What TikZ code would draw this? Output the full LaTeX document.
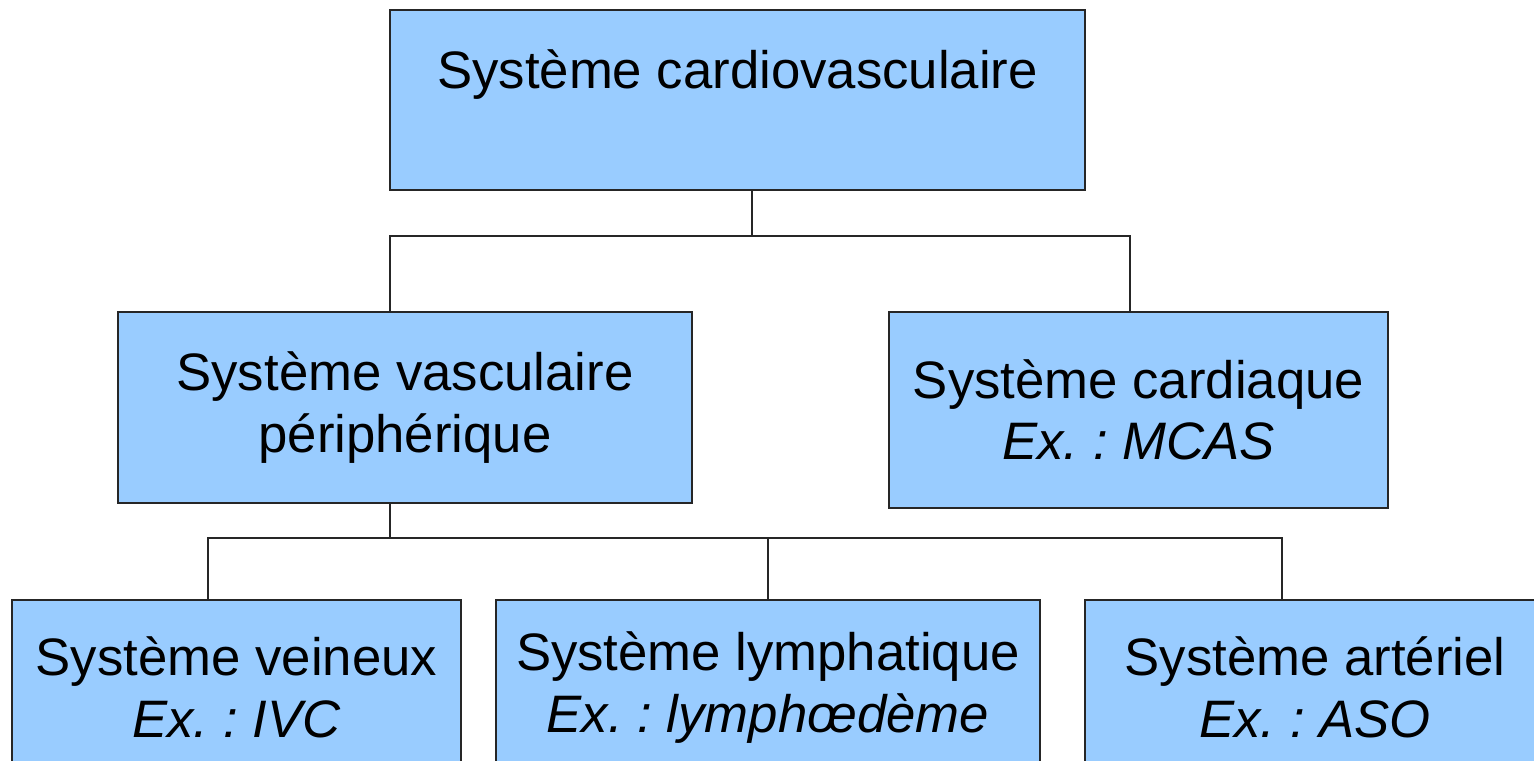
\documentclass[tikz,border=0pt]{standalone}
\usepackage{fontspec}
\setmainfont{Liberation Sans}
\frenchspacing
\definecolor{boxblue}{HTML}{99CCFF}
\begin{document}
\begin{tikzpicture}[
    box/.style={draw=black!85, line width=1.1pt, fill=boxblue, align=center,
                inner sep=0pt, font=\fontsize{30}{35}\selectfont},
    link/.style={black!85, line width=0.9pt}]
        \useasboundingbox (0,0) rectangle (30.68,-15.22);
        \clip (0,0) rectangle (30.68,-15.22);
        \node(cv)   at (14.75, -2.00) [box, minimum width=13.9cm,  minimum height=3.6cm]  {Système cardiovasculaire\\\mbox{}};
        \node(vasc) at ( 8.10, -8.15) [box, minimum width=11.48cm, minimum height=3.82cm] {Système vasculaire\\périphérique};
        \node(card) at (22.77, -8.20) [box, minimum width=9.98cm,  minimum height=3.92cm] {Système cardiaque\\\textit{Ex. : MCAS}};
        \node(vein) at ( 4.73,-13.75) [box, minimum width=8.98cm,  minimum height=3.5cm]  {Système veineux\\\textit{Ex. : IVC}};
        \node(lym)  at (15.36,-13.75) [box, minimum width=10.88cm, minimum height=3.5cm]  {Système lymphatique\\\textit{Ex. : lymphœdème}};
        \node(art)  at (26.30,-13.75) [box, minimum width=9.2cm,   minimum height=3.5cm]  {Système artériel\\\textit{Ex. : ASO}};
        \coordinate(j1)  at (15.04, -4.72);
        \coordinate(b1l) at ( 7.80, -4.72);
        \coordinate(b1r) at (22.60, -4.72);
        \coordinate(j2)  at ( 7.80,-10.76);
        \coordinate(b2l) at ( 4.16,-10.76);
        \coordinate(b2m) at (15.36,-10.76);
        \coordinate(b2r) at (25.64,-10.76);
        \draw[link] (j1 |- cv.south) -- (j1);
        \draw[link] (b1l |- vasc.north) -- (b1l) -- (b1r) -- (b1r |- card.north);
        \draw[link] (j2 |- vasc.south) -- (j2);
        \draw[link] (b2l |- vein.north) -- (b2l) -- (b2r) -- (b2r |- art.north);
        \draw[link] (b2m) -- (b2m |- lym.north);
    \end{tikzpicture}
\end{document}
